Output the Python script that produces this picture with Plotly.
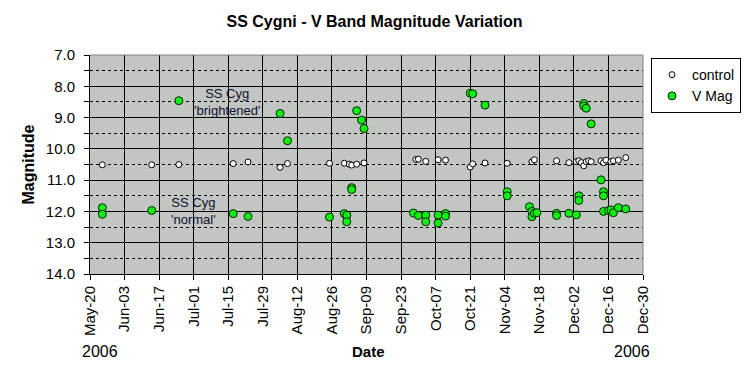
import plotly.graph_objects as go

# ---- data ----
control_dates = [
    "2006-05-25", "2006-06-14", "2006-06-25", "2006-07-17", "2006-07-23",
    "2006-08-05", "2006-08-08", "2006-08-25", "2006-08-31", "2006-09-02",
    "2006-09-03", "2006-09-05", "2006-09-08", "2006-09-29", "2006-09-30",
    "2006-10-03", "2006-10-08", "2006-10-11", "2006-10-21", "2006-10-22",
    "2006-10-27", "2006-11-05", "2006-11-15", "2006-11-16", "2006-11-25",
    "2006-11-30", "2006-12-03", "2006-12-04", "2006-12-05", "2006-12-06",
    "2006-12-07", "2006-12-08", "2006-12-09", "2006-12-13", "2006-12-14",
    "2006-12-15", "2006-12-17", "2006-12-18", "2006-12-20", "2006-12-23",
]
control_mag = [
    10.51, 10.51, 10.50, 10.47, 10.42,
    10.59, 10.47, 10.46, 10.46, 10.49,
    10.52, 10.49, 10.45, 10.34, 10.33,
    10.40, 10.35, 10.36, 10.58, 10.48,
    10.45, 10.46, 10.41, 10.35, 10.38,
    10.44, 10.41, 10.38, 10.44, 10.54,
    10.41, 10.38, 10.41, 10.38, 10.44,
    10.36, 10.41, 10.38, 10.36, 10.28,
]

vmag_dates = [
    "2006-05-25", "2006-05-25", "2006-06-14", "2006-06-25", "2006-07-17",
    "2006-07-23", "2006-08-05", "2006-08-08", "2006-08-25", "2006-08-31",
    "2006-09-01", "2006-09-01", "2006-09-01", "2006-09-03", "2006-09-03",
    "2006-09-05", "2006-09-07", "2006-09-08", "2006-09-28", "2006-09-30",
    "2006-10-03", "2006-10-03", "2006-10-08", "2006-10-08", "2006-10-11",
    "2006-10-11", "2006-10-21", "2006-10-22", "2006-10-27", "2006-11-05",
    "2006-11-05", "2006-11-14", "2006-11-15", "2006-11-15", "2006-11-16",
    "2006-11-17", "2006-11-25", "2006-11-25", "2006-11-30", "2006-12-03",
    "2006-12-04", "2006-12-04", "2006-12-06", "2006-12-06", "2006-12-07",
    "2006-12-09", "2006-12-13", "2006-12-14", "2006-12-14", "2006-12-14",
    "2006-12-16", "2006-12-17", "2006-12-18", "2006-12-20", "2006-12-23",
]
vmag_mag = [
    11.88, 12.09, 11.97, 8.46, 12.07,
    12.16, 8.87, 9.74, 12.18, 12.07,
    12.14, 12.12, 12.33, 11.24, 11.30,
    8.78, 9.08, 9.35, 12.05, 12.13,
    12.12, 12.33, 12.12, 12.37, 12.07,
    12.15, 8.22, 8.24, 8.60, 11.37,
    11.50, 11.85, 12.00, 12.17, 12.06,
    12.04, 12.06, 12.13, 12.06, 12.11,
    11.50, 11.65, 8.55, 8.63, 8.70,
    9.20, 10.99, 11.37, 11.50, 12.00,
    11.97, 11.95, 12.04, 11.88, 11.92,
]

FONT = "Liberation Sans, Arial, sans-serif"

fig = go.Figure()
fig.add_trace(go.Scatter(
    x=control_dates, y=control_mag, mode="markers", name="control",
    marker=dict(symbol="circle", size=6, color="white",
                line=dict(color="black", width=1)),
))
fig.add_trace(go.Scatter(
    x=vmag_dates, y=vmag_mag, mode="markers", name="V Mag",
    marker=dict(symbol="circle", size=8, color="#11EE11",
                line=dict(color="#002200", width=1)),
))

fig.update_layout(
    width=749, height=384,
    margin=dict(l=90, r=106, t=55, b=110, autoexpand=False),
    paper_bgcolor="white",
    plot_bgcolor="#C2C6C2",
    font=dict(family=FONT, size=14, color="black"),
    title=dict(text="<b>SS Cygni - V Band Magnitude Variation</b>",
               x=0.5, xanchor="center", y=0.943, yanchor="middle",
               font=dict(family=FONT, size=16, color="black")),
    showlegend=True,
    legend=dict(x=1.0145, y=0.986, xanchor="left", yanchor="top",
                bgcolor="white", bordercolor="black", borderwidth=1,
                font=dict(family=FONT, size=14, color="black"),
                itemwidth=30, tracegroupgap=0),
)

fig.update_xaxes(
    type="date", automargin=False,
    range=["2006-05-20", "2006-12-30"],
    tick0="2006-05-20", dtick=14 * 86400000,
    tickformat="%b-%d", tickangle=-90,
    tickfont=dict(family=FONT, size=15, color="black"),
    showgrid=True, gridcolor="black", gridwidth=1,
    showline=True, linecolor="black", linewidth=1,
    ticks="outside", ticklen=5, tickcolor="black",
    zeroline=False,
)
fig.update_yaxes(
    automargin=False,
    range=[14, 7],
    tick0=7, dtick=1, tickformat=".1f",
    tickfont=dict(family=FONT, size=15, color="black"),
    ticklabelstandoff=6,
    showgrid=True, gridcolor="black", gridwidth=1,
    showline=True, linecolor="black", linewidth=1,
    ticks="outside", ticklen=5, tickcolor="black",
    minor=dict(dtick=0.5, showgrid=True, gridcolor="black",
               griddash="3px,3px", gridwidth=1,
               ticks="outside", ticklen=5, tickcolor="black"),
    zeroline=False,
)

# gray top/right frame
fig.add_shape(type="line", xref="paper", yref="paper", x0=0, x1=1, y0=1, y1=1,
              line=dict(color="#808080", width=1))
fig.add_shape(type="line", xref="paper", yref="paper", x0=1, x1=1, y0=0, y1=1,
              line=dict(color="#808080", width=1))

TXT = "#101030"
fig.add_annotation(x="2006-07-14 12:00", y=8.49, xref="x", yref="y",
                   text="SS Cyg<br>'brightened'", showarrow=False,
                   xanchor="center", yanchor="middle",
                   font=dict(family=FONT, size=13, color=TXT))
fig.add_annotation(x="2006-07-01", y=12.0, xref="x", yref="y",
                   text="SS Cyg<br>'normal'", showarrow=False,
                   xanchor="center", yanchor="middle",
                   font=dict(family=FONT, size=13, color=TXT))

fig.add_annotation(x=0.503, y=-0.356, xref="paper", yref="paper",
                   text="<b>Date</b>", showarrow=False,
                   xanchor="center", yanchor="middle",
                   font=dict(family=FONT, size=15, color="black"))
fig.add_annotation(x=0.018, y=-0.356, xref="paper", yref="paper",
                   text="2006", showarrow=False,
                   xanchor="center", yanchor="middle",
                   font=dict(family=FONT, size=16, color="black"))
fig.add_annotation(x=0.98, y=-0.356, xref="paper", yref="paper",
                   text="2006", showarrow=False,
                   xanchor="center", yanchor="middle",
                   font=dict(family=FONT, size=16, color="black"))
fig.add_annotation(x=-0.112, y=0.5, xref="paper", yref="paper",
                   text="<b>Magnitude</b>", showarrow=False, textangle=-90,
                   xanchor="center", yanchor="middle",
                   font=dict(family=FONT, size=16, color="black"))

fig.write_html(
    "out.html",
    config={"displayModeBar": False},
    post_script="document.body.style.margin='0';document.body.style.overflow='hidden';",
)
